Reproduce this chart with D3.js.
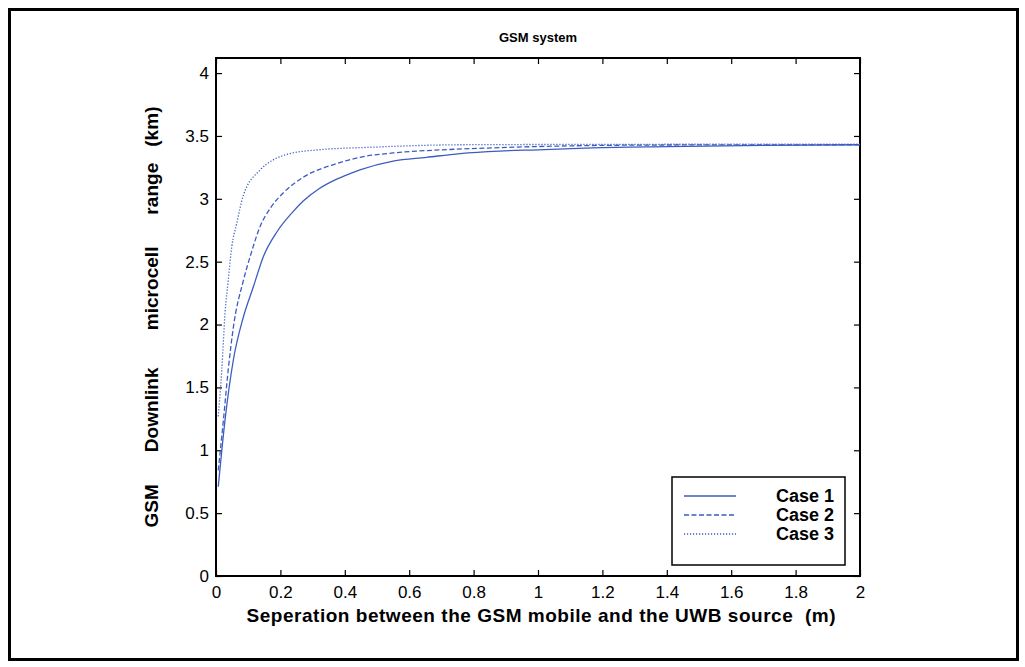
<!DOCTYPE html>
<html>
<head>
<meta charset="utf-8">
<script src="https://cdn.jsdelivr.net/npm/d3@7"></script>
<style>
  body { margin: 0; background: #fff; }
  text { font-family: "Liberation Sans", Arial, Helvetica, sans-serif; }
</style>
</head>
<body>
<div id="chart"></div>
<script>
// data
var case1X = [0.007, 0.028, 0.054, 0.085, 0.116, 0.147, 0.19, 0.24, 0.27, 0.32, 0.37, 0.416, 0.447, 0.55, 0.654, 0.758, 0.88, 1.0, 1.17, 1.4, 1.7, 2.0];
var case1Y = [0.71, 1.24, 1.72, 2.06, 2.30, 2.54, 2.74, 2.90, 2.98, 3.08, 3.15, 3.20, 3.23, 3.30, 3.33, 3.36, 3.38, 3.39, 3.405, 3.415, 3.425, 3.43];

var case2X = [0.007, 0.023, 0.038, 0.054, 0.085, 0.106, 0.137, 0.17, 0.21, 0.27, 0.375, 0.447, 0.55, 0.705, 0.86, 1.07, 1.4, 2.0];
var case2Y = [0.84, 1.24, 1.64, 1.98, 2.35, 2.54, 2.78, 2.93, 3.05, 3.17, 3.28, 3.33, 3.365, 3.39, 3.405, 3.42, 3.428, 3.43];

var case3X = [0.007, 0.018, 0.028, 0.038, 0.049, 0.064, 0.084, 0.137, 0.178, 0.23, 0.32, 0.48, 0.758, 1.2, 2.0];
var case3Y = [1.27, 1.64, 2.09, 2.35, 2.62, 2.80, 3.02, 3.23, 3.31, 3.36, 3.39, 3.41, 3.43, 3.433, 3.435];

var seriesNames = ["Case 1", "Case 2", "Case 3"];
var xTicks = [0, 0.2, 0.4, 0.6, 0.8, 1, 1.2, 1.4, 1.6, 1.8, 2];
var yTicks = [0, 0.5, 1, 1.5, 2, 2.5, 3, 3.5, 4];

var svgWidth = 1025;
var svgHeight = 667;
var margin = { top: 58, right: 165, bottom: 91, left: 216 };
var width = svgWidth - margin.left - margin.right;
var height = svgHeight - margin.top - margin.bottom;

var svg = d3.select("#chart")
  .append("svg")
  .attr("width", svgWidth)
  .attr("height", svgHeight);

// outer frame
svg.append("rect")
  .attr("x", 9.5).attr("y", 9.5)
  .attr("width", 1008).attr("height", 650)
  .attr("fill", "none")
  .attr("stroke", "#000")
  .attr("stroke-width", 3);

var chartGroup = svg.append("g")
  .attr("transform", `translate(${margin.left}, ${margin.top})`);

var x = d3.scaleLinear().domain([0, 2]).range([0, width]);
var y = d3.scaleLinear().domain([0, 4.12]).range([height, 0]);

// axes: MATLAB style, ticks inside on all four sides
function styleAxis(g) {
  g.select(".domain").remove();
  g.selectAll(".tick line").attr("stroke", "#000").attr("stroke-width", 1.2);
  g.selectAll(".tick text").attr("fill", "#000").style("font-size", "17px");
}

chartGroup.append("g")
  .attr("transform", `translate(0, ${height})`)
  .call(d3.axisBottom(x).tickValues(xTicks).tickSizeInner(-6).tickSizeOuter(0).tickPadding(10).tickFormat(d3.format("")))
  .call(styleAxis);

chartGroup.append("g")
  .call(d3.axisTop(x).tickValues(xTicks).tickSizeInner(-6).tickSizeOuter(0).tickFormat(""))
  .call(styleAxis);

chartGroup.append("g")
  .call(d3.axisLeft(y).tickValues(yTicks).tickSizeInner(-6).tickSizeOuter(0).tickPadding(7).tickFormat(d3.format("")))
  .call(styleAxis);

chartGroup.append("g")
  .attr("transform", `translate(${width}, 0)`)
  .call(d3.axisRight(y).tickValues(yTicks).tickSizeInner(-6).tickSizeOuter(0).tickFormat(""))
  .call(styleAxis);

chartGroup.append("rect")
  .attr("width", width).attr("height", height)
  .attr("fill", "none")
  .attr("stroke", "#000")
  .attr("stroke-width", 2);

// lines
var lineColor = "#3d5cbf";
var dashes = [null, "5,2.5", "1.2,1.8"];
var series = [
  d3.zip(case1X, case1Y),
  d3.zip(case2X, case2Y),
  d3.zip(case3X, case3Y)
];

var line = d3.line()
  .x(d => x(d[0]))
  .y(d => y(d[1]))
  .curve(d3.curveMonotoneX);

chartGroup.selectAll(".case")
  .data(series)
  .enter()
  .append("path")
  .attr("class", "case")
  .attr("d", line)
  .attr("fill", "none")
  .attr("stroke", lineColor)
  .attr("stroke-width", 1.3)
  .attr("stroke-dasharray", (d, i) => dashes[i]);

// legend
var legend = svg.append("g").attr("transform", "translate(672, 477)");
legend.append("rect")
  .attr("width", 173).attr("height", 88)
  .attr("fill", "#fff")
  .attr("stroke", "#000")
  .attr("stroke-width", 1.5);

seriesNames.forEach(function(name, i) {
  var ly = 19 + i * 19;
  legend.append("line")
    .attr("x1", 12).attr("x2", 64)
    .attr("y1", ly).attr("y2", ly)
    .attr("stroke", lineColor)
    .attr("stroke-width", 1.3)
    .attr("stroke-dasharray", dashes[i]);
  legend.append("text")
    .attr("x", 162).attr("y", ly + 6)
    .attr("text-anchor", "end")
    .style("font-size", "18px")
    .style("font-weight", "bold")
    .text(name);
});

// title and axis labels
svg.append("text")
  .attr("x", margin.left + width / 2)
  .attr("y", 42)
  .attr("text-anchor", "middle")
  .style("font-size", "13px")
  .style("font-weight", "bold")
  .text("GSM system");

svg.append("text")
  .attr("x", 541)
  .attr("y", 622)
  .attr("text-anchor", "middle")
  .attr("textLength", 589)
  .attr("lengthAdjust", "spacing")
  .style("font-size", "19px")
  .style("font-weight", "bold")
  .style("white-space", "pre")
  .text("Seperation between the GSM mobile and the UWB source  (m)");

svg.append("text")
  .attr("transform", `translate(158, 317) rotate(-90)`)
  .attr("text-anchor", "middle")
  .attr("textLength", 421)
  .attr("lengthAdjust", "spacing")
  .style("font-size", "19px")
  .style("font-weight", "bold")
  .style("white-space", "pre")
  .text("GSM      Downlink       microcell      range   (km)");
</script>
</body>
</html>
